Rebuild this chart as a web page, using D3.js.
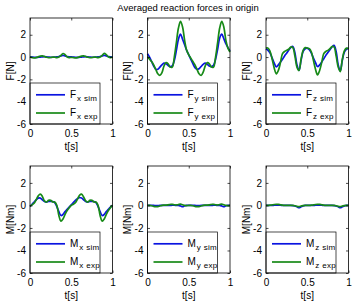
<!DOCTYPE html>
<html><head><meta charset="utf-8">
<script src="https://cdn.jsdelivr.net/npm/d3@7"></script>
<style>
body{margin:0;background:#fff}
svg{display:block}
text{font-family:"Liberation Sans",Arial,Helvetica,sans-serif;fill:#000}
</style>
</head><body>
<script>
const title = "Averaged reaction forces in origin";
const time = [0,0.025,0.05,0.075,0.1,0.125,0.15,0.175,0.2,0.225,0.25,0.275,0.3,0.325,0.35,0.375,0.4,0.425,0.45,0.475,
              0.5,0.525,0.55,0.575,0.6,0.625,0.65,0.675,0.7,0.725,0.75,0.775,0.8,0.825,0.85,0.875,0.9,0.925,0.95,0.975,1];
const yTicks = [-6,-4,-2,0,2];
const xTicks = [0,0.5,1];
const xTickLabels = ["0","0.5","1"];
const yTickLabels = ["-6","-4","-2","0","2"];

const FxSim = [0.02,0.0,-0.02,-0.03,-0.02,0.0,0.02,0.03,0.02,0.0,-0.02,-0.02,0.0,0.02,0.05,0.1,0.15,0.1,0.04,0.02,
               0.02,0.0,-0.02,-0.03,-0.02,0.0,0.02,0.03,0.02,0.0,-0.02,-0.02,0.0,0.02,0.05,0.1,0.15,0.1,0.04,0.02,0.02];
const FxExp = [0.0,-0.05,-0.08,-0.05,0.02,0.08,0.1,0.05,-0.02,-0.06,-0.04,0.0,-0.02,-0.05,0.0,0.15,0.32,0.22,0.02,-0.05,
               -0.02,-0.05,-0.08,-0.05,0.02,0.08,0.1,0.05,-0.02,-0.06,-0.04,0.0,-0.02,-0.05,0.0,0.15,0.33,0.22,0.02,-0.05,0.0];
const FySim = [0.3,0.0,-0.4,-0.8,-1.1,-1.1,-0.9,-0.7,-0.55,-0.6,-0.75,-0.85,-0.8,-0.3,0.6,1.6,2.05,1.6,1.1,0.6,
               0.2,-0.2,-0.6,-0.95,-1.1,-1.05,-0.85,-0.65,-0.55,-0.65,-0.8,-0.85,-0.75,-0.2,0.7,1.7,2.05,1.65,1.2,0.85,0.55];
const FyExp = [0.05,-0.2,-0.4,-0.7,-1.1,-1.5,-1.65,-1.4,-0.8,-0.5,-0.6,-0.9,-0.9,0.0,1.3,2.6,3.2,2.7,1.5,0.6,
               0.2,-0.1,-0.4,-0.7,-1.1,-1.5,-1.65,-1.35,-0.8,-0.5,-0.6,-0.9,-0.9,0.0,1.3,2.6,3.2,2.7,1.5,0.8,0.45];
const FzSim = [0.75,0.6,0.35,-0.1,-0.55,-0.88,-0.7,-0.45,-0.2,0.1,0.35,0.6,0.85,0.95,0.4,-0.7,-1.2,-0.3,0.5,0.75,
               0.8,0.65,0.35,-0.1,-0.5,-0.85,-0.7,-0.45,-0.15,0.15,0.4,0.65,0.9,1.05,0.5,-0.7,-1.25,-0.3,0.45,0.7,0.8];
const FzExp = [0.8,0.8,0.5,-0.2,-1.0,-1.5,-1.2,-0.5,0.3,0.5,0.6,0.7,0.9,0.85,0.1,-0.9,-1.2,-0.2,0.6,0.85,
               0.8,0.75,0.45,-0.3,-1.1,-1.6,-1.2,-0.5,0.3,0.5,0.6,0.75,0.95,0.9,0.1,-0.9,-1.3,-0.2,0.55,0.8,0.75];
const MxSim = [-0.1,0.1,0.3,0.5,0.65,0.65,0.5,0.35,0.3,0.35,0.35,0.35,0.25,-0.1,-0.55,-0.9,-0.8,-0.55,-0.35,-0.15,
               0.05,0.25,0.45,0.6,0.7,0.65,0.5,0.35,0.3,0.35,0.35,0.35,0.25,-0.1,-0.55,-0.9,-0.8,-0.55,-0.35,-0.15,0.0];
const MxExp = [-0.05,0.05,0.2,0.5,0.85,1.0,0.8,0.4,0.3,0.45,0.45,0.3,0.3,0.0,-0.9,-1.4,-1.2,-0.8,-0.45,-0.2,
               0.0,0.1,0.25,0.55,0.9,1.0,0.75,0.4,0.3,0.45,0.45,0.3,0.3,0.0,-0.9,-1.4,-1.2,-0.8,-0.45,-0.2,0.0];
const MySim = [0,0,0,0,-0.02,-0.02,0,0,0,0,0,0,0.02,0.02,0,0,-0.05,-0.12,-0.03,0,
               0,0,0,0,-0.02,-0.02,0,0,0,0,0,0,0.02,0.02,0,0,-0.05,-0.12,-0.03,0,0];
const MyExp = [0,0,-0.03,-0.08,-0.1,-0.1,-0.05,0,0.02,0.03,0.05,0.08,0.1,0.06,0.04,0.08,0.12,0.06,0.0,-0.02,
               0,0,-0.03,-0.08,-0.1,-0.1,-0.05,0,0.02,0.03,0.05,0.08,0.1,0.06,0.04,0.08,0.12,0.06,0.0,-0.02,0];
const MzSim = [0,0,0,0,0.02,0.03,0.03,0.02,0,0,0,0,0,-0.02,-0.05,-0.12,-0.2,-0.12,-0.04,0,
               0,0,0,0,0.02,0.03,0.03,0.02,0,0,0,0,0,-0.02,-0.05,-0.12,-0.2,-0.12,-0.04,0,0];
const MzExp = [0,0,0.02,0.05,0.08,0.1,0.1,0.06,0.02,0,0,0,0,0,-0.03,-0.08,-0.1,-0.06,-0.02,0,
               0,0,0.02,0.05,0.08,0.1,0.1,0.06,0.02,0,0,0,0,0,-0.03,-0.08,-0.1,-0.06,-0.02,0,0];

const panelSym = ["F","F","F","M","M","M"];
const panelAxis = ["x","y","z","x","y","z"];
const panelYLabel = ["F[N]","F[N]","F[N]","M[Nm]","M[Nm]","M[Nm]"];
const simSeries = [FxSim,FySim,FzSim,MxSim,MySim,MzSim];
const expSeries = [FxExp,FyExp,FzExp,MxExp,MyExp,MzExp];

const W = 352, H = 304;
const colLeft = [30, 147.5, 266];
const plotW = 82.5;
const rowTop = [18, 166];
const plotH = [106, 107];
const simColor = "#0a14e0", expColor = "#178a17";

const svg = d3.select("body").append("svg").attr("width", W).attr("height", H);
svg.append("rect").attr("width", W).attr("height", H).attr("fill", "#fff");

svg.append("text").attr("x", 188).attr("y", 11).attr("text-anchor", "middle")
  .style("font-size", "9.5px").text(title);

for (let i = 0; i < 6; i++) {
  const r = Math.floor(i / 3), c = i % 3;
  const L = colLeft[c], T = rowTop[r], h = plotH[r];
  const x = d3.scaleLinear().domain([0, 1]).range([L, L + plotW]);
  const y = d3.scaleLinear().domain([-6, 3.5]).range([T + h, T]);
  const g = svg.append("g");

  const line = d3.line().x((d, k) => x(time[k])).y(d => y(d)).curve(d3.curveCatmullRom.alpha(0.5));
  g.append("path").datum(simSeries[i]).attr("d", line).attr("fill", "none")
    .attr("stroke", simColor).attr("stroke-width", 1.7);
  g.append("path").datum(expSeries[i]).attr("d", line).attr("fill", "none")
    .attr("stroke", expColor).attr("stroke-width", 1.7);

  const fs = "10px";
  const axL = d3.axisLeft(y).tickValues(yTicks).tickSize(-2.5).tickPadding(4).tickFormat((d,k)=>yTickLabels[k]);
  const axR = d3.axisRight(y).tickValues(yTicks).tickSize(-2.5).tickFormat("");
  const axB = d3.axisBottom(x).tickValues(xTicks).tickSize(-2.5).tickPadding(4).tickFormat((d,k)=>xTickLabels[k]);
  const axT = d3.axisTop(x).tickValues(xTicks).tickSize(-2.5).tickFormat("");
  const gl = g.append("g").attr("transform", `translate(${L},0)`).call(axL);
  const gr = g.append("g").attr("transform", `translate(${L+plotW},0)`).call(axR);
  const gb = g.append("g").attr("transform", `translate(0,${T+h})`).call(axB);
  const gt = g.append("g").attr("transform", `translate(0,${T})`).call(axT);
  [gl,gr,gb,gt].forEach(a => {
    a.select(".domain").remove();
    a.selectAll("line").attr("stroke", "#000").attr("stroke-width", 0.7);
    a.selectAll("text").style("font-size", fs).attr("font-family", null);
  });
  gb.selectAll("text").attr("dy", "0.85em");

  const lgW = 70, lgH = 41;
  const lx = L, ly = T + h - lgH;
  g.append("rect").attr("x", lx).attr("y", ly).attr("width", lgW).attr("height", lgH)
    .attr("fill", "#fff").attr("stroke", "#000").attr("stroke-width", 0.7);
  const entries = [["sim", simColor, 11.8], ["exp", expColor, 30]];
  entries.forEach(([lab, col, dy]) => {
    g.append("line").attr("x1", lx + 6).attr("x2", lx + 35).attr("y1", ly + dy).attr("y2", ly + dy)
      .attr("stroke", col).attr("stroke-width", 1.7);
    const t = g.append("text").attr("x", lx + 40).attr("y", ly + dy + 3.3).style("font-size", "10px");
    t.append("tspan").text(panelSym[i]);
    t.append("tspan").attr("dx", 1).attr("dy", 3).style("font-size", "8px").style("letter-spacing", "0.3px")
      .text(panelAxis[i] + " " + lab);
  });

  g.append("rect").attr("x", L).attr("y", T).attr("width", plotW).attr("height", h)
    .attr("fill", "none").attr("stroke", "#000").attr("stroke-width", 0.8);

  g.append("text").attr("transform", `translate(${L - 16.5},${T + h / 2}) rotate(-90)`)
    .attr("text-anchor", "middle").style("font-size", "10px").text(panelYLabel[i]);
  g.append("text").attr("x", L + plotW / 2).attr("y", T + h + 26).attr("text-anchor", "middle")
    .style("font-size", "10px").text("t[s]");
}
</script>
</body></html>
